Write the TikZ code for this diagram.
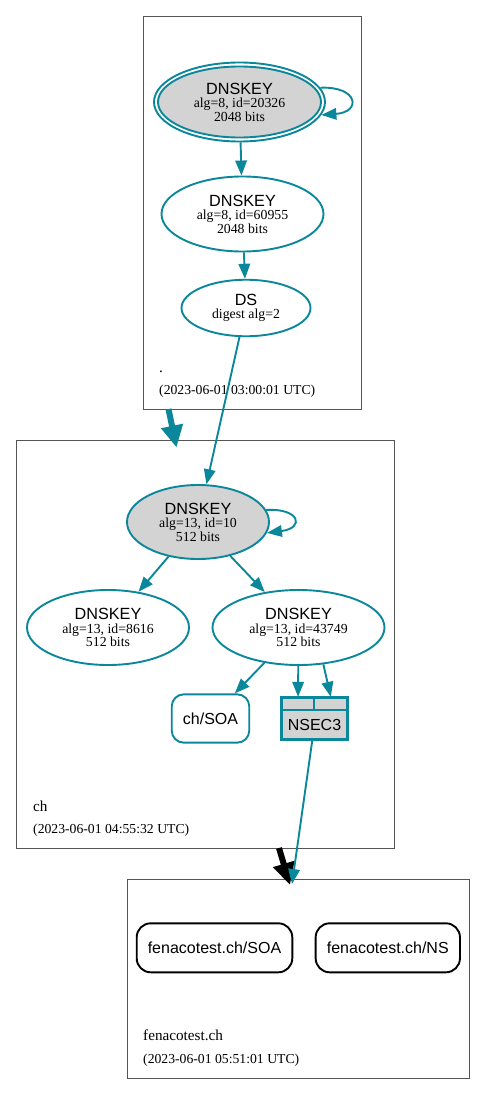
\documentclass[tikz,border=0pt]{standalone}
\usepackage{fontspec}
\setmainfont{Liberation Serif}
\newfontfamily\sansf{Liberation Sans}
\usetikzlibrary{shapes.geometric,arrows.meta}
\definecolor{sec}{HTML}{0A879A}
\definecolor{kfill}{HTML}{D3D3D3}
\definecolor{clus}{HTML}{555555}
\newcommand{\kt}{{\sansf\fontsize{16.2}{13.5}\selectfont DNSKEY}}
\tikzset{
  key/.style={ellipse, draw=sec, line width=1.9pt, inner sep=0pt, align=center,
    font=\fontsize{13.8}{13.5}\selectfont},
  ksk/.style={key, fill=kfill},
  edge/.style={draw=sec, line width=1.9pt, -{Triangle[length=15pt,width=11.5pt]}},
  deleg/.style={line width=6pt, -{Triangle[length=22pt,width=21pt]}},
  clusterbox/.style={draw=clus, line width=0.9pt},
  rrset/.style={rectangle, rounded corners=12pt, draw=sec, line width=1.9pt,
    font=\sansf\fontsize{16}{18}\selectfont, inner sep=0pt},
  cell/.style={rectangle, draw=sec, fill=kfill, line width=1.7pt, inner sep=0pt,
    font=\sansf\fontsize{16}{18}\selectfont},
  zlabel/.style={anchor=base west, inner sep=0pt, font=\fontsize{15.2}{17}\selectfont},
  zdate/.style={anchor=base west, inner sep=0pt, font=\fontsize{13.7}{16}\selectfont},
}
\begin{document}
\begin{tikzpicture}[x=1pt,y=-1pt]
\useasboundingbox (0,0) rectangle (485,1094);
% clusters
\draw[clusterbox] (143,16) rectangle (361,409);
\draw[clusterbox] (16,440) rectangle (394,848);
\draw[clusterbox] (127,879) rectangle (469,1078);
% zone labels
\node[zlabel] (l1) at (159,372) {.};
\node[zdate] (d1) at (159,394) {(2023-06-01 03:00:01 UTC)};
\node[zlabel] (l2) at (33,811.5) {ch};
\node[zdate] (d2) at (33,833) {(2023-06-01 04:55:32 UTC)};
\node[zlabel] (l3) at (143,1040.5) {fenacotest.ch};
\node[zdate] (d3) at (143,1063.5) {(2023-06-01 05:51:01 UTC)};
% root zone
\node[ellipse, draw=sec, line width=1.9pt, inner sep=0pt, minimum width=171pt, minimum height=79pt] (ksk1) at (239.5,102) {};
\node[ksk, minimum width=163pt, minimum height=71pt] (ksk1in) at (239.5,102) {\kt\\alg=8, id=20326\\2048 bits};
\node[key, minimum width=162pt, minimum height=75pt] (zsk1) at (242.5,214) {\kt\\alg=8, id=60955\\2048 bits};
\node[key, minimum width=129pt, minimum height=56.5pt] (ds) at (246,308) {{\sansf\fontsize{16.2}{13.5}\selectfont DS}\\digest alg=2};
% ch zone
\node[ksk, minimum width=142pt, minimum height=74pt] (chksk) at (198,522) {\kt\\alg=13, id=10\\512 bits};
\node[key, minimum width=162pt, minimum height=75pt] (k8616) at (108,627.5) {\kt\\alg=13, id=8616\\512 bits};
\node[key, minimum width=172pt, minimum height=75pt] (k43749) at (298.5,627.5) {\kt\\alg=13, id=43749\\512 bits};
\node[rrset, minimum width=77.5pt, minimum height=48.3pt] (chsoa) at (210.5,718.5) {ch/SOA};
\node[cell, minimum width=32.6pt, minimum height=12.3pt] (nsecA) at (298,703.85) {};
\node[cell, minimum width=33pt, minimum height=12.3pt] (nsecB) at (330.8,703.85) {};
\node[cell, minimum width=65.6pt, minimum height=29.3pt] (nsecC) at (314.5,724.65) {NSEC3};
\draw[draw=sec, line width=2.2pt] (nsecA.north west) rectangle (nsecC.south east);
% fenacotest zone
\node[rrset, draw=black, rounded corners=14pt, minimum width=155.6pt, minimum height=49pt] (fsoa) at (214.5,947.8) {fenacotest.ch/SOA};
\node[rrset, draw=black, rounded corners=14pt, minimum width=144.3pt, minimum height=49pt] (fns) at (387.8,947.8) {fenacotest.ch/NS};
% delegations
\coordinate (d1s) at (168.5,409);
\coordinate (d1e) at (176.5,447.5);
\draw[deleg, draw=sec, fill=sec] (d1s) -- (d1e);
\coordinate (d2s) at (279,848);
\coordinate (d2e) at (290,885);
\draw[deleg, draw=black, fill=black] (d2s) -- (d2e);
% edges
\draw[edge] (ksk1.10) .. controls (358,86) and (362,112) .. (ksk1.-9);
\draw[edge] (ksk1) -- (zsk1);
\draw[edge] (zsk1) -- (ds);
\draw[edge] (ds) -- (chksk);
\draw[edge] (chksk.10) .. controls (300,508) and (305,528) .. (chksk.-9);
\draw[edge] (chksk) -- (k8616);
\draw[edge] (chksk) -- (k43749);
\draw[edge] (k43749) -- (chsoa);
\draw[edge] (k43749) -- (nsecA);
\draw[edge] (k43749.-56) -- (nsecB.north);
\coordinate (fz) at (292,884);
\draw[edge] (nsecC) -- (fz);
\end{tikzpicture}
\end{document}
